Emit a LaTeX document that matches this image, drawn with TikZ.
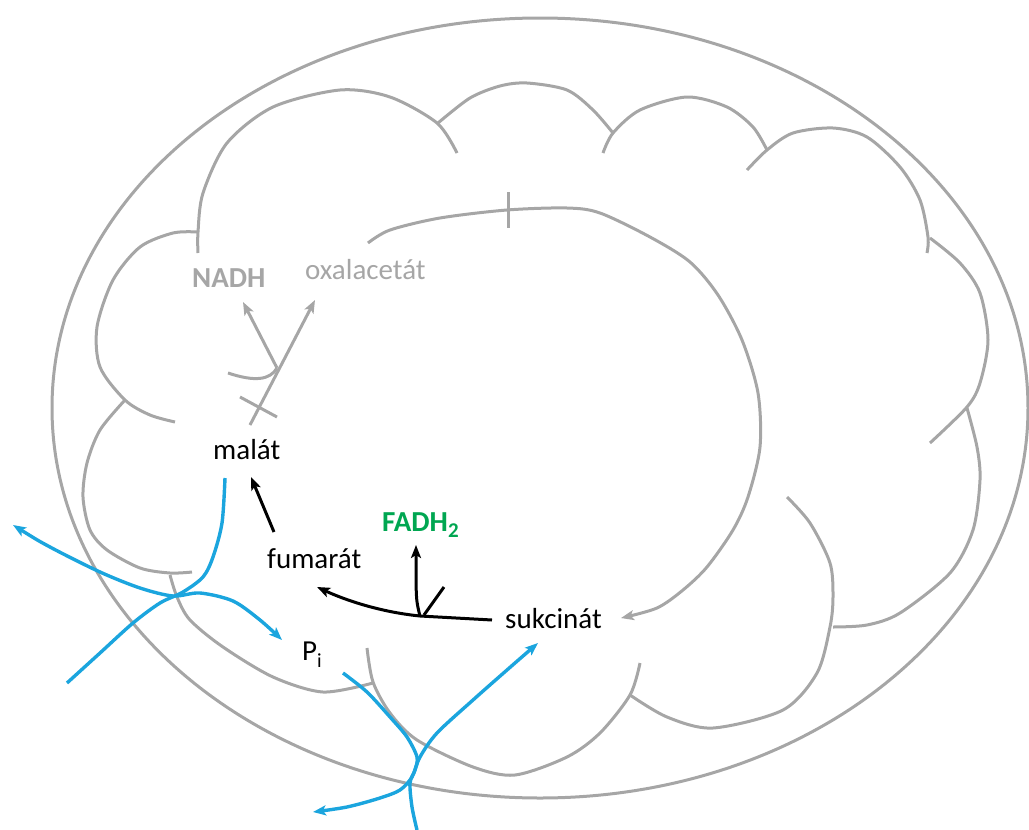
\documentclass[tikz,border=0pt]{standalone}
\usepackage{fontspec}
\setmainfont{Carlito}
\usetikzlibrary{arrows.meta}
\definecolor{memgray}{RGB}{166,166,166}
\definecolor{flowblue}{RGB}{27,165,222}
\definecolor{fadgreen}{RGB}{0,166,81}

\begin{document}
\begin{tikzpicture}[x=1pt,y=-1pt,
  membrane/.style={draw=memgray, line width=3pt},
  flow/.style={draw=flowblue, line width=3.4pt},
  react/.style={draw=black, line width=3pt},
  lbl/.style={inner sep=0pt, anchor=base west, font=\fontsize{29}{34}\selectfont},
  >={Stealth[length=13pt,width=10pt,inset=3pt]}
]
\useasboundingbox (0,0) rectangle (1029,830);

% outer membrane
\draw[membrane] (540,408) ellipse [x radius=488pt, y radius=390pt];

% inner membrane lobes
\draw[membrane] plot[smooth] coordinates {(198,253) (198,232) (203,193) (227,143) (273,107) (340,90) (390,97) (437,123) (457,153)};
\draw[membrane] plot[smooth] coordinates {(438,123) (470,98) (500,86) (527,83) (567,90) (593,110) (613,133)};
\draw[membrane] plot[smooth] coordinates {(603,153) (613,133) (640,110) (687,97) (727,107) (753,127) (767,150)};
\draw[membrane] plot[smooth] coordinates {(747,170) (767,150) (793,133) (833,128) (867,137) (900,167) (920,200) (928,237) (927,253)};
\draw[membrane] plot[smooth] coordinates {(930,238) (960,263) (980,293) (988,340) (980,383) (967,407) (930,443)};
\draw[membrane] plot[smooth] coordinates {(967,408) (977,447) (980,480) (973,530) (950,573) (900,613) (867,625) (833,627)};
\draw[membrane] plot[smooth] coordinates {(787,497) (810,523) (830,563) (833,597) (830,627) (817,673) (783,710) (713,728) (667,717) (630,695)};
\draw[membrane] plot[smooth] coordinates {(367,648) (373,682) (390,713) (417,740) (473,767) (515,775) (567,757) (600,733) (630,695) (640,663)};
\draw[membrane] plot[smooth] coordinates {(198,232) (173,233) (140,247) (113,280) (97,327) (100,367) (125,400) (150,415) (175,422)};
\draw[membrane] plot[smooth] coordinates {(125,400) (100,430) (87,463) (83,497) (90,530) (107,550) (140,568) (170,573) (192,572)};
\draw[membrane] plot[smooth] coordinates {(170,575) (177,597) (190,620) (223,647) (273,677) (323,692) (373,683)};

% labels
\node[lbl] (mal) at (213,459) {malát};
\node[lbl] (fum) at (267,568) {fumarát};
\node[lbl] (suk) at (505,628) {sukcinát};
\node[lbl, text=fadgreen, font=\fontsize{29}{34}\selectfont\bfseries] (fad) at (382,531) {FADH\raisebox{-6.5pt}{\fontsize{21}{21}\selectfont 2}};
\node[lbl, text=memgray, font=\fontsize{29}{34}\selectfont\bfseries] (nadh) at (192,287) {NADH};
\node[lbl, text=memgray] (oxa) at (305,279) {oxalacetát};
\node[lbl] (pi) at (302,660) {P\raisebox{-7pt}{\fontsize{20}{20}\selectfont i}};

% crista pathway back to succinate
\coordinate (crstart) at (368,243);
\coordinate (suktip) at ([xshift=19pt]suk.east);
\draw[membrane, ->] plot[smooth] coordinates {(crstart) (390,230) (440,218) (507,210) (567,208) (600,213) (650,237) (690,262) (718,295) (742,340) (758,393) (760,447) (748,497) (733,530) (707,567) (683,590) (657,608) (suktip)};
\draw[membrane] (508,192) -- (508,228);

% malate oxidation with NADH branch
\coordinate (malout) at (250,425);
\coordinate (oxain) at (315,300);
\coordinate (nadhfork) at (277,368);
\coordinate (nadhin) at (243,302);
\draw[membrane, ->] (malout) -- (oxain);
\draw[membrane] (240,397) -- (277,417);
\draw[membrane, ->] (nadhfork) -- (nadhin);
\draw[membrane] (228,373) .. controls (255,382) and (270,380) .. (nadhfork);

% fumarate hydration and succinate oxidation
\coordinate (fumout) at (274,532);
\coordinate (malin) at (251,477);
\draw[react, ->] (fumout) -- (malin);
\coordinate (sukout) at (492,620);
\coordinate (fork) at (420,616);
\coordinate (fumin) at (317,587);
\coordinate (fadin) at (416,545);
\draw[react, ->] (sukout) -- (fork) .. controls (380,612) and (345,600) .. (fumin);
\draw[react, ->] (fork) .. controls (416,600) .. (fadin);
\draw[react] (424,615) -- (444,587);

% carriers across the membranes
\draw[flow, <->] plot[smooth] coordinates {(13,525) (50,547) (100,572) (140,588) (173,596) (200,593) (233,601) (260,620) (282,640)};
\draw[flow] plot[smooth] coordinates {(225,478) (222,523) (213,557) (203,577) (183,592) (160,603) (133,623) (100,653) (67,683)};
\draw[flow] plot[smooth] coordinates {(343,673) (367,692) (390,717) (407,737) (417,757) (415,770) (410,783) (412,807) (417,830)};
\draw[flow, <->] plot[smooth] coordinates {(538,643) (507,670) (473,700) (437,733) (420,757) (412,777) (400,790) (380,798) (347,807) (313,812)};
\end{tikzpicture}
\end{document}
